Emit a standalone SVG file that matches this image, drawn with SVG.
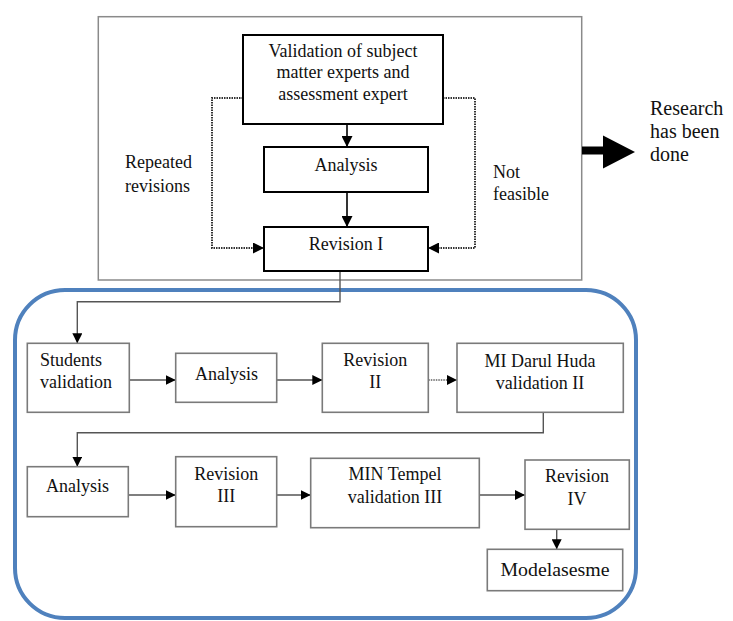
<svg xmlns="http://www.w3.org/2000/svg" width="733" height="621" viewBox="0 0 733 621" font-family="Liberation Serif, Tinos, Times New Roman, Times, DejaVu Serif, Noto Serif, serif">
<style>
text{font-size:18px;fill:#111}
.c{text-anchor:middle}
.top{fill:#fff;stroke:#000;stroke-width:2}
.bot{fill:#fff;stroke:#7a7a7a;stroke-width:1.6}
.ln{fill:none;stroke:#000;stroke-width:1.6}
.lg{fill:none;stroke:#555;stroke-width:1.4}
.dot{fill:none;stroke:#333;stroke-width:2;stroke-dasharray:1.5 1}
.big{font-size:20px}
</style>
<defs>
<marker id="ah" markerUnits="userSpaceOnUse" markerWidth="11" markerHeight="11" refX="11" refY="5.5" orient="auto">
<path d="M0,0 L11,5.5 L0,11 z" fill="#000"/>
</marker>
<marker id="as" markerUnits="userSpaceOnUse" markerWidth="10" markerHeight="10" refX="10" refY="5" orient="auto">
<path d="M0,0 L10,5 L0,10 z" fill="#000"/>
</marker>
</defs>

<rect id="outer-top" x="98.3" y="16.7" width="483.4" height="263.3" fill="#fff" stroke="#8a8a8a" stroke-width="1.5"/>
<rect id="outer-bottom" x="15" y="290" width="621" height="328" rx="50" ry="50" fill="none" stroke="#4f81bd" stroke-width="4"/>

<g id="connectors">
<path class="ln" d="M347,124 V147" marker-end="url(#ah)"/>
<path class="ln" d="M347,192 V227" marker-end="url(#ah)"/>
<path class="dot" d="M243,98 H212 V248 H264" marker-end="url(#ah)"/>
<path class="dot" d="M443,98 H475 V248 H428" marker-end="url(#ah)"/>
<path class="lg" d="M340,271 V301.7 H77.3 V343.3" marker-end="url(#as)"/>
<path class="lg" d="M129.3,380 H175.7" marker-end="url(#as)"/>
<path class="lg" d="M276.7,380 H322.3" marker-end="url(#as)"/>
<path class="dot" style="stroke:#888" d="M428.3,380 H457" marker-end="url(#as)"/>
<path class="lg" d="M543.3,412.3 V432.7 H77.3 V466.7" marker-end="url(#as)"/>
<path class="lg" d="M128.3,495 H175.7" marker-end="url(#as)"/>
<path class="lg" d="M276.7,495 H310.7" marker-end="url(#as)"/>
<path class="lg" d="M479.3,495 H525" marker-end="url(#as)"/>
<path class="lg" d="M556.7,529.3 V549.3" marker-end="url(#as)"/>
</g>

<g id="big-arrow">
<path d="M582,150.5 H605" stroke="#000" stroke-width="8" fill="none"/>
<path d="M603,135.5 L635,152 L603,168.5 z" fill="#000"/>
</g>

<g id="validation-experts">
<rect class="top" x="243" y="35" width="200" height="89"/>
<text class="c" x="343" y="57">Validation of subject</text>
<text class="c" x="343" y="78">matter experts and</text>
<text class="c" x="343" y="100">assessment expert</text>
</g>
<g id="analysis-1">
<rect class="top" x="264" y="147" width="164" height="45"/>
<text class="c" x="346" y="171">Analysis</text>
</g>
<g id="revision-1">
<rect class="top" x="264" y="227" width="164" height="44"/>
<text class="c" x="346" y="250">Revision I</text>
</g>
<g id="label-repeated">
<text x="125" y="168">Repeated</text>
<text x="125" y="192">revisions</text>
</g>
<g id="label-not-feasible">
<text x="493" y="178">Not</text>
<text x="493" y="200">feasible</text>
</g>
<g id="label-research">
<text class="big" x="650" y="115">Research</text>
<text class="big" x="650" y="138">has been</text>
<text class="big" x="650" y="161">done</text>
</g>

<g id="students-validation">
<rect class="bot" x="27.3" y="343.3" width="102" height="69"/>
<text x="40" y="366">Students</text>
<text x="40" y="388">validation</text>
</g>
<g id="analysis-2">
<rect class="bot" x="175.7" y="353.3" width="101" height="49"/>
<text class="c" x="226.5" y="380">Analysis</text>
</g>
<g id="revision-2">
<rect class="bot" x="322.3" y="343.3" width="106" height="69"/>
<text class="c" x="375.3" y="366">Revision</text>
<text class="c" x="375.3" y="388">II</text>
</g>
<g id="mi-darul-huda">
<rect class="bot" x="457" y="343.3" width="166.3" height="69"/>
<text class="c" x="540" y="367">MI Darul Huda</text>
<text class="c" x="540" y="388.5">validation II</text>
</g>
<g id="analysis-3">
<rect class="bot" x="27.3" y="466.7" width="101" height="50"/>
<text class="c" x="77.5" y="492">Analysis</text>
</g>
<g id="revision-3">
<rect class="bot" x="175.7" y="456.7" width="101" height="70"/>
<text class="c" x="226.2" y="480">Revision</text>
<text class="c" x="226.2" y="502">III</text>
</g>
<g id="min-tempel">
<rect class="bot" x="310.7" y="458.3" width="168.6" height="69.4"/>
<text class="c" x="395" y="480">MIN Tempel</text>
<text class="c" x="395" y="503">validation III</text>
</g>
<g id="revision-4">
<rect class="bot" x="525" y="460" width="104.3" height="69.3"/>
<text class="c" x="577" y="482">Revision</text>
<text class="c" x="577" y="505">IV</text>
</g>
<g id="modelasesme">
<rect class="bot" x="487.3" y="549.3" width="135.4" height="41.4"/>
<text class="c" x="555" y="576" textLength="109" lengthAdjust="spacingAndGlyphs">Modelasesme</text>
</g>
</svg>
